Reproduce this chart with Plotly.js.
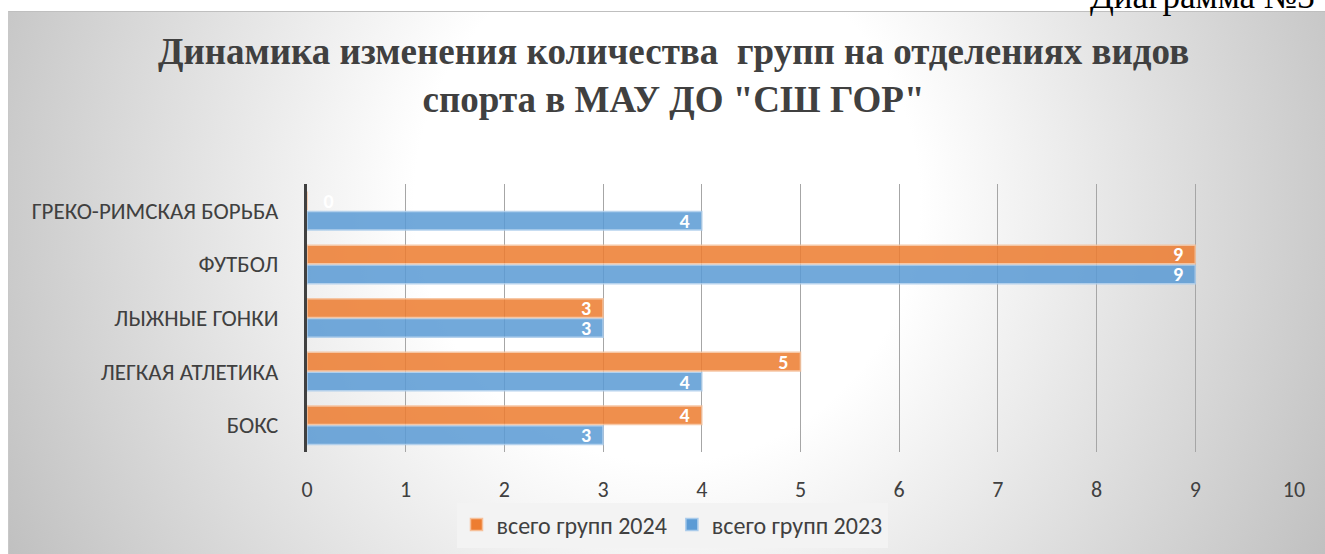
<!DOCTYPE html>
<html>
<head>
<meta charset="utf-8">
<script src="https://cdn.plot.ly/plotly-3.0.1.min.js"></script>
<style>
  html, body { margin: 0; padding: 0; background: #ffffff; overflow: hidden; }
  #bg {
    position: absolute; left: 8px; top: 11px; width: 1317px; height: 543px;
    box-sizing: border-box;
    border-top: 1px solid #bfbfbf; border-left: 1px solid #c8c8c8;
    background: radial-gradient(ellipse 60% 150% at 50% 35%, #ffffff 0%, #ffffff 32%, #bababa 100%);
  }
  #chart { position: absolute; left: 0; top: 0; width: 1325px; height: 554px; }
</style>
</head>
<body>
<div id="bg"></div>
<div id="chart"></div>
<script>
// ---- data ----
const categories = ["БОКС", "ЛЕГКАЯ АТЛЕТИКА", "ЛЫЖНЫЕ ГОНКИ", "ФУТБОЛ", "ГРЕКО-РИМСКАЯ БОРЬБА"];
const groups2024 = [4, 5, 3, 9, 0];
const groups2023 = [3, 4, 3, 9, 4];
const seriesNames = ["всего групп 2024", "всего групп 2023"];
const xTicks = [0, 1, 2, 3, 4, 5, 6, 7, 8, 9, 10];
const titleText = "Динамика изменения количества  групп на отделениях видов<br>спорта в МАУ ДО \"СШ ГОР\"";
const captionText = "Диаграмма №3";

// ---- layout helpers ----
const W = 1325, H = 554;
const L = 307, R = 1294, T = 184, B = 452;
const pxX = p => (p - L) / (R - L);
const pxY = p => (B - p) / (B - T);

const NB = "\u00a0";
const labelFor = v => v === 0 ? NB + NB + NB + v : v + NB + NB;

const sansFont = "Carlito, Lato, 'Open Sans', sans-serif";
const txtColor = "#404040";
const lblFont = { family: sansFont, size: 20, color: "#ffffff", weight: "bold" };

function makeTrace(name, vals, color, lineColor) {
  return {
    type: "bar", orientation: "h", name: name,
    y: categories, x: vals,
    text: vals.map(labelFor),
    textposition: vals.map(v => v === 0 ? "outside" : "inside"),
    insidetextanchor: "end",
    textangle: 0,
    constraintext: "none",
    textfont: lblFont, outsidetextfont: lblFont, insidetextfont: lblFont,
    marker: { color: color, opacity: 0.86, line: { color: lineColor, width: 1.5 } },
    cliponaxis: false, hoverinfo: "x+name"
  };
}

const trace2023 = makeTrace(seriesNames[1], groups2023, "#5B9BD5", "#a9cbeb");
const trace2024 = makeTrace(seriesNames[0], groups2024, "#ED7D31", "#f6bf98");

const layout = {
  width: W, height: H,
  margin: { l: L, r: W - R, t: T, b: H - B, pad: 0 },
  paper_bgcolor: "rgba(0,0,0,0)",
  plot_bgcolor: "rgba(0,0,0,0)",
  barmode: "group",
  bargap: 0.26,
  bargroupgap: 0.06,
  showlegend: true,
  legend: {
    orientation: "h", traceorder: "reversed",
    xref: "container", yref: "container",
    x: 672 / W, xanchor: "center",
    y: (H - 525) / H, yanchor: "middle",
    bgcolor: "#f3f3f3", borderwidth: 0,
    font: { family: sansFont, size: 24, color: txtColor },
    itemwidth: 30
  },
  xaxis: {
    range: [0, 10], tickvals: xTicks, ticktext: xTicks.map(String),
    showgrid: true, gridcolor: "#a6a6a6", gridwidth: 1,
    zeroline: false, showline: false, ticks: "",
    ticklabelstandoff: 22,
    tickfont: { family: sansFont, size: 22, color: txtColor },
    fixedrange: true
  },
  yaxis: {
    type: "category",
    showgrid: false, zeroline: false,
    showline: true, linecolor: "#404040", linewidth: 3,
    ticks: "", ticklabelstandoff: 21,
    tickfont: { family: sansFont, size: 23, color: txtColor },
    fixedrange: true
  },
  annotations: [
    {
      xref: "paper", yref: "paper",
      x: pxX(673), y: pxY(29), xanchor: "center", yanchor: "top",
      text: "<b>" + titleText + "</b>", showarrow: false, align: "center",
      font: { family: "'Liberation Serif', 'Times New Roman', serif", size: 37, color: txtColor }
    },
    {
      xref: "paper", yref: "paper",
      x: pxX(1088), y: pxY(18), xanchor: "left", yanchor: "bottom",
      text: captionText, showarrow: false,
      font: { family: "'Liberation Serif', 'Times New Roman', serif", size: 35, color: "#000000" }
    }
  ]
};

Plotly.newPlot("chart", [trace2023, trace2024], layout, { displayModeBar: false, staticPlot: true });
</script>
</body>
</html>
